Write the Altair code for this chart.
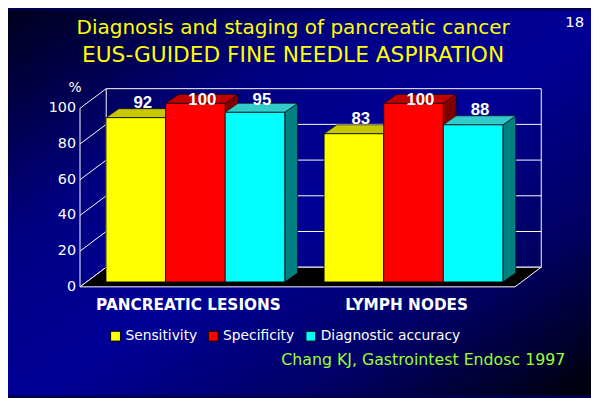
import altair as alt
import pandas as pd

# ---- data ----
groups = ["PANCREATIC LESIONS", "LYMPH NODES"]
series = ["Sensitivity", "Specificity", "Diagnostic accuracy"]
sensitivity = [92, 83]
specificity = [100, 100]
accuracy = [95, 88]
y_ticks = [0, 20, 40, 60, 80, 100]

title1 = "Diagnosis and staging of pancreatic cancer"
title2 = "EUS-GUIDED FINE NEEDLE ASPIRATION"
slide_no = "18"
citation = "Chang KJ, Gastrointest Endosc 1997"
unit = "%"

# ---- styles ----
front_colors = ["#ffff00", "#ff0000", "#00ffff"]
top_colors = ["#c8c800", "#c00000", "#33cccc"]
side_colors = ["#8c8c00", "#800000", "#008080"]
FONT = "DejaVu Sans"

# layout in scale units
PAD, STEP, XMAX = 0.32, 3.66, 7.3
BAR_DX, BAR_DY = 0.116, 2.76      # bar placed a little into the depth
DEP_DX, DEP_DY = 0.215, 5.0       # bar depth
FL_DX, FL_DY = 0.44, 11.0         # floor / back wall depth

values = [sensitivity, specificity, accuracy]
front, tops, sides, labels = [], [], [], []
bid = 0
for g, grp in enumerate(groups):
    for s, ser in enumerate(series):
        v = values[s][g]
        x0 = PAD + g * STEP + s + BAR_DX
        x1 = x0 + 1
        base, top = BAR_DY, v + BAR_DY
        front.append(dict(series=ser, x0=x0, x1=x1, base=base, top=top))
        tops.append(dict(id=bid, series=ser, yy=top, xa=x0, xb=x1))
        tops.append(dict(id=bid, series=ser, yy=top + DEP_DY, xa=x0 + DEP_DX, xb=x1 + DEP_DX))
        sides.append(dict(id=bid, series=ser, xx=x1, lo=base, hi=top))
        sides.append(dict(id=bid, series=ser, xx=x1 + DEP_DX, lo=base + DEP_DY, hi=top + DEP_DY))
        labels.append(dict(txt=str(v), lx=x0 + 0.5 + 0.116, ly=min(v + 11, 104.5)))
        bid += 1
front_df = pd.DataFrame(front)
tops_df = pd.DataFrame(tops)
sides_df = pd.DataFrame(sides)
labels_df = pd.DataFrame(labels)
group_df = pd.DataFrame(dict(name=groups, cx=[PAD + g * STEP + 1.5 for g in range(len(groups))]))

grid_df = pd.DataFrame(dict(v=y_ticks))
grid_df["vb"] = grid_df["v"] + FL_DY
grid_df["x0"] = 0.0
grid_df["xf"] = FL_DX
grid_df["xe"] = XMAX + FL_DX
grid_df["lab"] = grid_df["v"].astype(str)
walls_df = pd.DataFrame(dict(x=[0, FL_DX, XMAX + FL_DX], lo=[0, FL_DY, FL_DY],
                             hi=[100, 100 + FL_DY, 100 + FL_DY]))
floor_df = pd.DataFrame(dict(yy=[0, FL_DY], xa=[0, FL_DX], xb=[XMAX, XMAX + FL_DX]))
one = pd.DataFrame(dict(a=[0]))

XS = alt.Scale(domain=[0, XMAX], nice=False, zero=False)
YS = alt.Scale(domain=[0, 100], nice=False, zero=False)

W, H = 441, 181
PL, PT, PR, PB = 73, 99, 77, 110

bg = alt.Chart(one).mark_rect(
    fill={"gradient": "linear", "x1": 0, "y1": 0, "x2": 1, "y2": 1,
          "stops": [{"offset": 0, "color": "#00001c"},
                    {"offset": 0.3, "color": "#000082"},
                    {"offset": 0.52, "color": "#000098"},
                    {"offset": 0.78, "color": "#000060"},
                    {"offset": 1, "color": "#000008"}]}
).encode(x=alt.value(-PL), x2=alt.value(W + PR), y=alt.value(-PT), y2=alt.value(H + PB))

hgrid = alt.Chart(grid_df).mark_rule(color="white", strokeWidth=1).encode(
    x=alt.X("xf:Q", scale=XS, axis=None), x2="xe:Q",
    y=alt.Y("vb:Q", scale=YS, axis=None),
)
oblique = alt.Chart(grid_df).mark_rule(color="white", strokeWidth=1).encode(
    x=alt.X("x0:Q", scale=XS, axis=None), x2="xf:Q",
    y=alt.Y("v:Q", scale=YS, axis=None), y2="vb:Q",
)
walls = alt.Chart(walls_df).mark_rule(color="white", strokeWidth=1).encode(
    x=alt.X("x:Q", scale=XS, axis=None),
    y=alt.Y("lo:Q", scale=YS, axis=None), y2="hi:Q",
)
ylabels = alt.Chart(grid_df).mark_text(font=FONT, fontSize=14.5, color="white",
                                       align="right", baseline="middle", dx=-4).encode(
    x=alt.X("x0:Q", scale=XS, axis=None),
    y=alt.Y("v:Q", scale=YS, axis=None),
    text="lab:N",
)
floor = alt.Chart(floor_df).mark_area(orient="horizontal", color="black", stroke="white",
                                      strokeWidth=1, opacity=1).encode(
    y=alt.Y("yy:Q", scale=YS, axis=None, stack=None),
    x=alt.X("xa:Q", scale=XS, axis=None, stack=None), x2="xb:Q",
)
side_l = alt.Chart(sides_df).mark_area(orient="vertical", stroke="black", strokeWidth=0.6,
                                       opacity=1).encode(
    x=alt.X("xx:Q", scale=XS, axis=None, stack=None),
    y=alt.Y("lo:Q", scale=YS, axis=None, stack=None), y2="hi:Q",
    detail="id:N",
    color=alt.Color("series:N", scale=alt.Scale(domain=series, range=side_colors), legend=None),
)
top_l = alt.Chart(tops_df).mark_area(orient="horizontal", stroke="black", strokeWidth=0.6,
                                     opacity=1).encode(
    y=alt.Y("yy:Q", scale=YS, axis=None, stack=None),
    x=alt.X("xa:Q", scale=XS, axis=None, stack=None), x2="xb:Q",
    detail="id:N",
    color=alt.Color("series:N", scale=alt.Scale(domain=series, range=top_colors), legend=None),
)
front_l = alt.Chart(front_df).mark_rect(stroke="black", strokeWidth=0.8, opacity=1).encode(
    x=alt.X("x0:Q", scale=XS, axis=None), x2="x1:Q",
    y=alt.Y("base:Q", scale=YS, axis=None), y2="top:Q",
    color=alt.Color("series:N", scale=alt.Scale(domain=series, range=front_colors),
                    legend=alt.Legend(title=None, orient="none", direction="horizontal",
                                      legendX=29, legendY=224, symbolType="square",
                                      symbolSize=100, symbolStrokeColor="black",
                                      symbolStrokeWidth=1, symbolOpacity=1,
                                      labelColor="white", labelFont=FONT, labelFontSize=14,
                                      labelOffset=3, columnPadding=9, padding=0)),
)
val_l = alt.Chart(labels_df).mark_text(font="Liberation Sans", fontWeight="bold", fontSize=17,
                                       color="white", baseline="middle").encode(
    x=alt.X("lx:Q", scale=XS, axis=None),
    y=alt.Y("ly:Q", scale=YS, axis=None),
    text="txt:N",
)
grp_l = alt.Chart(group_df).mark_text(font=FONT, fontWeight="bold", fontSize=15.5,
                                      color="white", baseline="alphabetic").encode(
    x=alt.X("cx:Q", scale=XS, axis=None),
    y=alt.value(204),
    text="name:N",
)

def txt(s, x, y, size, color, align="center", weight="normal"):
    return alt.Chart(one).mark_text(text=s, font=FONT, fontSize=size, color=color,
                                    align=align, baseline="alphabetic",
                                    fontWeight=weight).encode(x=alt.value(x), y=alt.value(y))

t1 = txt(title1, 216, -75, 20.3, "#ffff00")
t2 = txt(title2, 216, -47, 22, "#ffff00")
t3 = txt(slide_no, 501.5, -82, 15, "white")
t4 = txt(citation, 204, 260, 16, "#99ff33", align="left")
t5 = txt(unit, -5, -17, 14, "white")

chart = alt.layer(
    bg, hgrid, oblique, walls, ylabels, floor, side_l, top_l, front_l, val_l, grp_l,
    t1, t2, t3, t4, t5
).resolve_scale(color="independent").properties(
    width=W, height=H,
    autosize=alt.AutoSizeParams(type="none"),
    padding={"left": PL, "top": PT, "right": PR, "bottom": PB},
    background="#000050",
).configure_view(stroke=None)

chart.save("out.html", embed_options={"renderer": "svg", "actions": False})
